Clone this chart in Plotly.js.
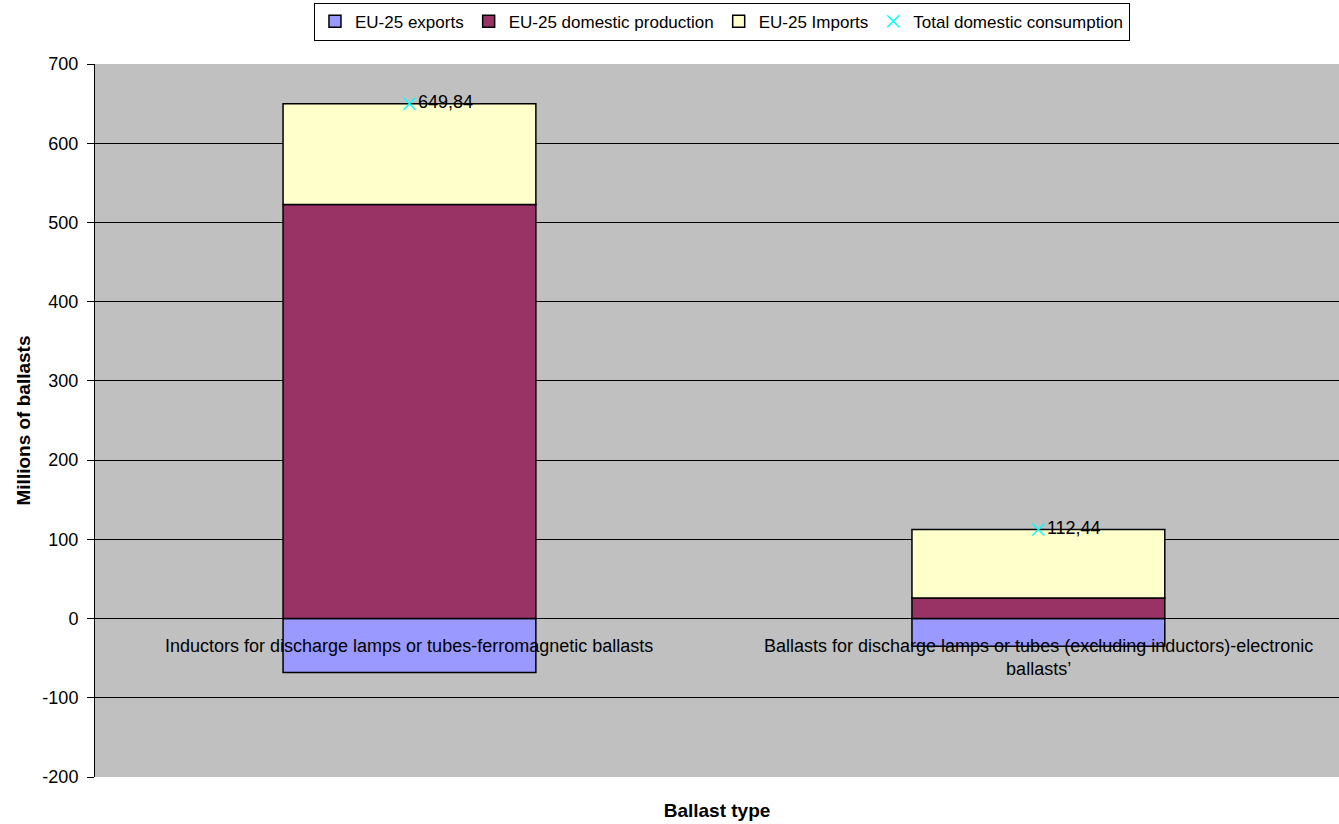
<!DOCTYPE html>
<html>
<head>
<meta charset="utf-8">
<script src="https://cdn.plot.ly/plotly-3.0.1.min.js"></script>
<style>html,body{margin:0;padding:0;background:#fff;}#chart{width:1339px;height:824px;}</style>
</head>
<body>
<div id="chart"></div>
<script>
const categories = [
  "Inductors for discharge lamps or tubes-ferromagnetic ballasts",
  "Ballasts for discharge lamps or tubes (excluding inductors)-electronic ballasts’"
];
const categoryLabels = [
  "Inductors for discharge lamps or tubes-ferromagnetic ballasts",
  "Ballasts for discharge lamps or tubes (excluding inductors)-electronic<br>ballasts’"
];
const exportsVals = [-68, -35];
const productionVals = [522.7, 26.1];
const importsVals = [127.14, 86.34];
const totalConsumption = [649.84, 112.44];
const yTickVals = [-200, -100, 0, 100, 200, 300, 400, 500, 600, 700];
const yTickText = ["-200", "-100", "0", "100", "200", "300", "400", "500", "600", "700"];

const xIdx = categories.map((c, i) => i);
const fontFam = "Liberation Sans, Arial, sans-serif";
const fs = 18;

const barLine = {color: '#000', width: 1.5};
const traces = [
  {type: 'bar', name: 'EU-25 exports', x: xIdx, y: exportsVals,
   marker: {color: '#9999ff', line: barLine}, width: 0.402},
  {type: 'bar', name: 'EU-25 domestic production', x: xIdx, y: productionVals,
   marker: {color: '#993366', line: barLine}, width: 0.402},
  {type: 'bar', name: 'EU-25 Imports', x: xIdx, y: importsVals,
   marker: {color: '#ffffcc', line: barLine}, width: 0.402},
  {type: 'scatter', mode: 'markers+text', name: 'Total domestic consumption',
   x: xIdx, y: totalConsumption,
   text: totalConsumption.map(v => v.toFixed(2).replace('.', ',')),
   textposition: 'middle right',
   textfont: {family: fontFam, size: fs, color: '#000'},
   marker: {symbol: 'x-thin', size: 12, color: '#00ffff', line: {color: '#00ffff', width: 1.5}}}
];

const annotations = categoryLabels.map((lab, i) => ({
  x: i, y: 0, xref: 'x', yref: 'y', text: lab, showarrow: false,
  yanchor: 'top', xanchor: 'center', yshift: -15,
  font: {family: fontFam, size: fs, color: '#000'}
}));

const layout = {
  width: 1339, height: 824,
  margin: {l: 95, r: 0, t: 64, b: 47, pad: 0},
  paper_bgcolor: '#ffffff',
  plot_bgcolor: '#c0c0c0',
  barmode: 'relative',
  showlegend: true,
  font: {family: fontFam, size: fs, color: '#000'},
  legend: {
    orientation: 'h', x: 0.504, xanchor: 'center', y: 1.086, yanchor: 'top',
    bordercolor: '#000', borderwidth: 1, bgcolor: '#fff',
    font: {family: fontFam, size: 17, color: '#000'},
    itemwidth: 30, traceorder: 'normal', tracegroupgap: 0
  },
  xaxis: {
    range: [-0.5, 1.478], showticklabels: false, showgrid: false,
    zeroline: false, showline: false, ticks: '', automargin: false,
    title: {text: '<b>Ballast type</b>', font: {family: fontFam, size: 19, color: '#000'}, standoff: 26}
  },
  yaxis: {
    range: [-200, 700], tickvals: yTickVals, ticktext: yTickText,
    showgrid: true, gridcolor: '#000', gridwidth: 1,
    zeroline: true, zerolinecolor: '#000', zerolinewidth: 1,
    showline: true, linecolor: '#000', linewidth: 1,
    ticks: 'outside', ticklen: 7, tickcolor: '#000', ticklabelstandoff: 5,
    automargin: false,
    tickfont: {family: fontFam, size: fs, color: '#000'},
    title: {text: '<b>Millions of ballasts</b>', font: {family: fontFam, size: 19, color: '#000'}, standoff: 6}
  },
  annotations: annotations
};

Plotly.newPlot('chart', traces, layout, {displayModeBar: false, staticPlot: true});
</script>
</body>
</html>
